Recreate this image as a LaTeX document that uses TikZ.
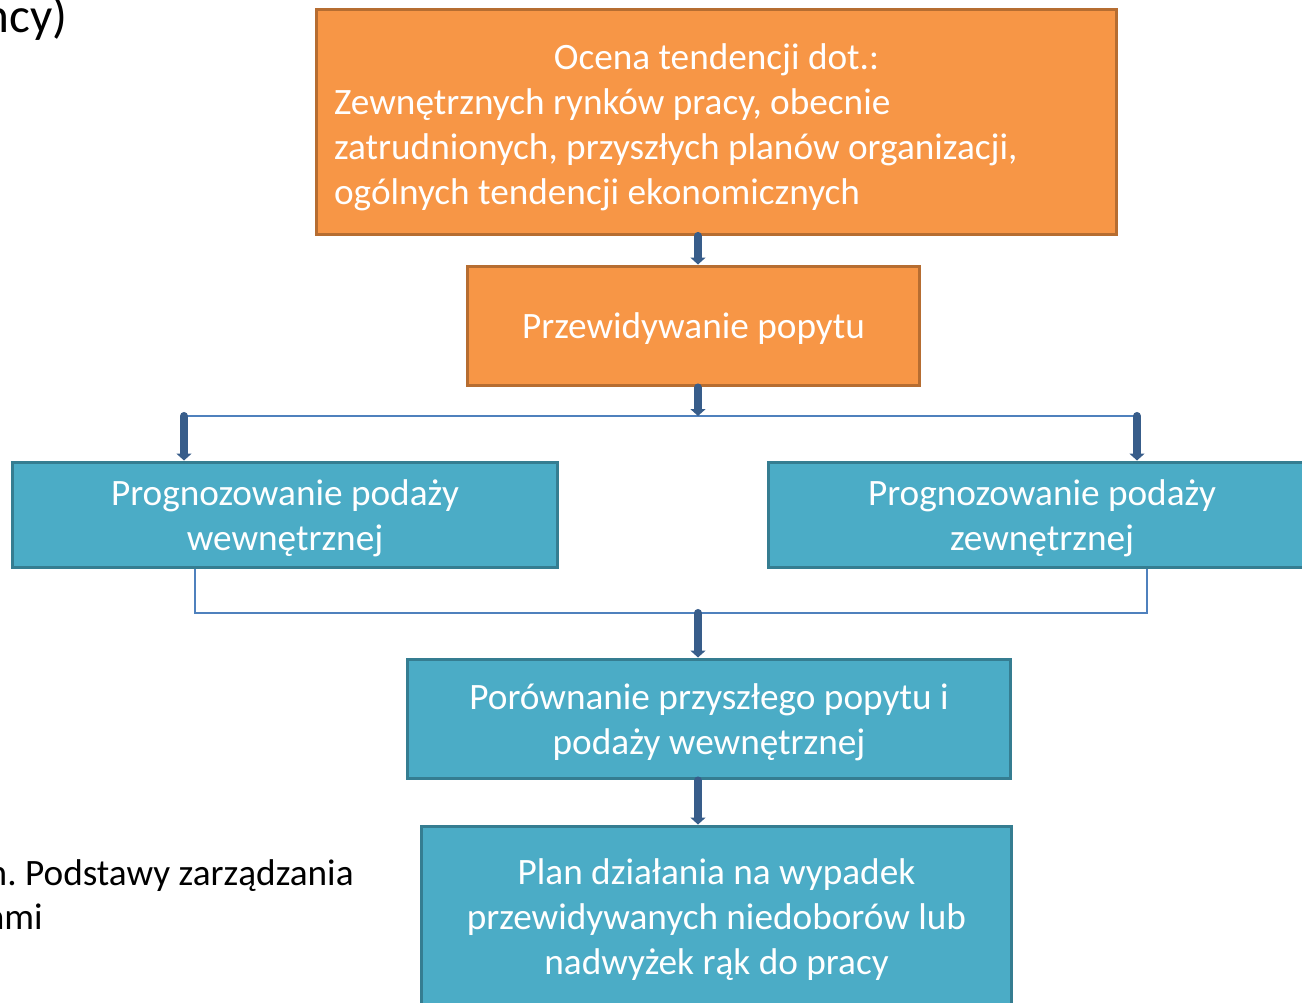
\documentclass[tikz,border=0pt]{standalone}
\usepackage{fontspec}
\setmainfont{Carlito}
\usepackage{tikz}
\usetikzlibrary{arrows.meta, positioning, calc}
\usepackage{xcolor}
\definecolor{orangefill}{RGB}{247,150,70}
\definecolor{orangeline}{RGB}{182,109,49}
\definecolor{bluefill}{RGB}{75,172,198}
\definecolor{blueline}{RGB}{53,125,145}
\definecolor{arrowblue}{RGB}{56,93,138}
\definecolor{linkblue}{RGB}{79,129,189}

\begin{document}
\begin{tikzpicture}[
      x=0.02cm, y=-0.02cm,
      box/.style={rectangle, line width=1.7pt, inner sep=0pt, text=white, text depth=0pt,
                  font=\fontsize{21.2}{25.6}\selectfont, align=center},
      obox/.style={box, fill=orangefill, draw=orangeline},
      bbox/.style={box, fill=bluefill, draw=blueline},
      arr/.style={-{Triangle[length=0.14cm, width=0.3cm]}, line width=4.6pt,
                  line cap=round, draw=arrowblue},
      link/.style={line width=1pt, draw=linkblue},
      note/.style={font=\fontsize{21.2}{25.6}\selectfont, text=black, inner sep=0pt}
    ]
    \useasboundingbox (0,0) rectangle (1302,1003);
    \clip (0,0) rectangle (1302,1003);
    \node[obox, text depth={}, minimum width=16.0cm, minimum height=4.5cm, text width=15.3cm, align=flush left] (ocena) at (716.5,122)
      {\centering\rule{0pt}{0.72cm}Ocena tendencji dot.:\par\raggedright Zewnętrznych rynków pracy, obecnie\\zatrudnionych, przyszłych planów organizacji,\\ogólnych tendencji ekonomicznych};
    \node[obox, minimum width=9.05cm, minimum height=2.4cm] (popyt) at (693.5,326) {Przewidywanie popytu};
    \node[bbox, minimum width=10.9cm, minimum height=2.12cm] (wew) at (285,515) {Prognozowanie podaży\\wewnętrznej};
    \node[bbox, minimum width=10.94cm, minimum height=2.12cm] (zew) at (1042,515) {Prognozowanie podaży\\zewnętrznej};
    \node[bbox, minimum width=12.08cm, minimum height=2.4cm] (porown) at (709,719) {Porównanie przyszłego popytu i\\podaży wewnętrznej};
    \node[bbox, minimum width=11.8cm, minimum height=3.64cm] (plan) at (716.5,917) {Plan działania na wypadek\\przewidywanych niedoborów lub\\nadwyżek rąk do pracy};
    \node[note, font=\fontsize{28}{34}\selectfont, anchor=base east] (tytul) at (68,33) {ncy)};
    \node[note, anchor=base east] (zrodlo1) at (354,885) {n.\ Podstawy zarządzania};
    \node[note, anchor=base east] (zrodlo2) at (43,929) {ami};
    \coordinate (split) at (698,416);
    \coordinate (splitL) at (184,416);
    \coordinate (splitR) at (1137,416);
    \coordinate (mergeL) at (195,613);
    \coordinate (merge) at (698,613);
    \coordinate (mergeR) at (1147,613);
    \draw[arr] (ocena.south -| split) -- (popyt.north -| split);
    \draw[link] (splitL) -- (splitR);
    \draw[arr] (popyt.south -| split) -- (split);
    \draw[arr] (splitL) -- (wew.north -| splitL);
    \draw[arr] (splitR) -- (zew.north -| splitR);
    \draw[link] (wew.south -| mergeL) -- (mergeL) -- (mergeR) -- (zew.south -| mergeR);
    \draw[arr] (merge) -- (porown.north -| merge);
    \draw[arr] (porown.south -| merge) -- (plan.north -| merge);
  \end{tikzpicture}
\end{document}
